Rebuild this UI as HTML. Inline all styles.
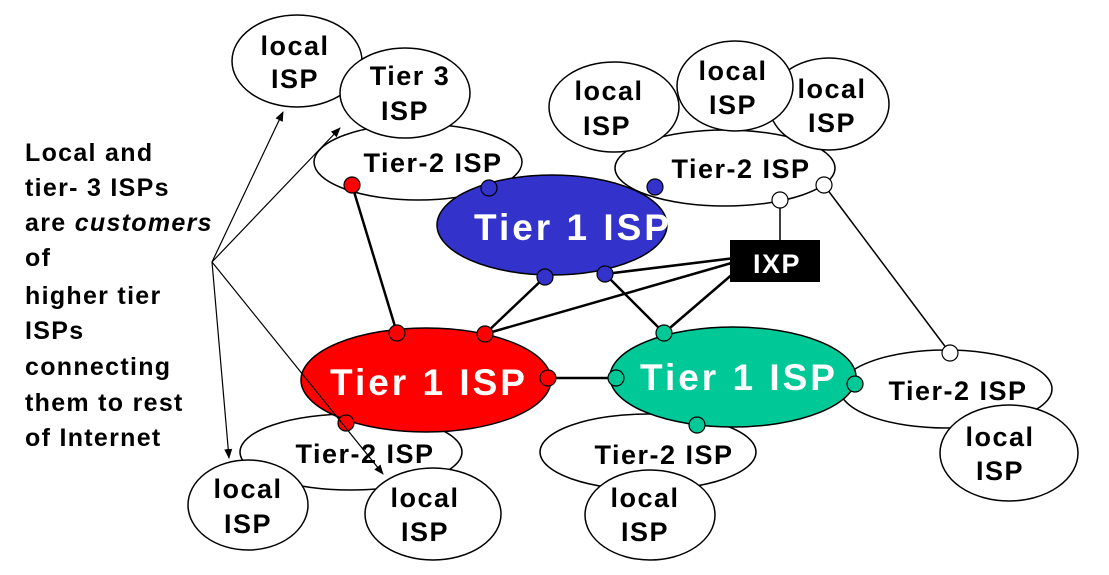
<!DOCTYPE html>
<html><head><meta charset="utf-8"><style>
html,body{margin:0;padding:0;background:#fff;}
svg text{font-family:"Liberation Sans",sans-serif;font-weight:bold;}
</style></head><body>
<svg width="1109" height="570" viewBox="0 0 1109 570" xmlns="http://www.w3.org/2000/svg">
<defs><marker id="a" markerWidth="10" markerHeight="10" refX="9" refY="5" orient="auto" markerUnits="userSpaceOnUse"><path d="M0,1 L10,5 L0,9z" fill="#000"/></marker></defs>
<g stroke="#000" stroke-width="1.5" fill="#fff">
<ellipse cx="418" cy="162" rx="104" ry="38"/>
<ellipse cx="297" cy="61" rx="65" ry="46"/>
<ellipse cx="405" cy="93" rx="65" ry="45"/>
<ellipse cx="725" cy="168" rx="110" ry="38"/>
<ellipse cx="829" cy="104" rx="60" ry="46"/>
<ellipse cx="735" cy="86" rx="58" ry="45"/>
<ellipse cx="614" cy="107" rx="65" ry="45"/>
<ellipse cx="552" cy="225" rx="115" ry="50" fill="#3333cc"/>
<ellipse cx="351" cy="452" rx="111" ry="38"/>
<ellipse cx="648" cy="452" rx="108" ry="38"/>
<ellipse cx="946" cy="389" rx="106" ry="39"/>
<ellipse cx="1009" cy="453" rx="69" ry="48"/>
<ellipse cx="426" cy="380" rx="125" ry="52" fill="#ff0000"/>
<ellipse cx="733" cy="377" rx="123" ry="50" fill="#00c896"/>
<ellipse cx="248" cy="505" rx="60" ry="45"/>
<ellipse cx="433" cy="514" rx="68" ry="46"/>
<ellipse cx="650" cy="515" rx="65" ry="45"/>
</g>
<g stroke="#000" stroke-width="2.5">
<line x1="352" y1="185" x2="397" y2="333"/>
<line x1="545" y1="277" x2="485" y2="334"/>
<line x1="605" y1="274" x2="664" y2="333"/>
<line x1="735" y1="258" x2="605" y2="274"/>
<line x1="735" y1="262" x2="485" y2="334"/>
<line x1="735" y1="272" x2="664" y2="333"/>
<line x1="548" y1="378" x2="616" y2="378"/>
</g>
<g stroke="#000" stroke-width="1.5">
<line x1="780" y1="200" x2="780" y2="240"/>
<line x1="824" y1="185" x2="950" y2="353"/>
</g>
<rect x="730" y="240" width="90" height="42" fill="#000"/>
<text x="777" y="273" font-size="27" letter-spacing="1.5" fill="#fff" text-anchor="middle">IXP</text>
<g stroke="#000" stroke-width="1.2">
<circle cx="352" cy="185" r="8" fill="#ff0000"/>
<circle cx="489" cy="188" r="8" fill="#3333cc"/>
<circle cx="655" cy="187" r="8" fill="#3333cc"/>
<circle cx="780" cy="200" r="8" fill="#fff"/>
<circle cx="824" cy="185" r="8" fill="#fff"/>
<circle cx="545" cy="277" r="8" fill="#3333cc"/>
<circle cx="605" cy="274" r="8" fill="#3333cc"/>
<circle cx="397" cy="333" r="8" fill="#ff0000"/>
<circle cx="485" cy="334" r="8" fill="#ff0000"/>
<circle cx="548" cy="378" r="8" fill="#ff0000"/>
<circle cx="346" cy="423" r="8" fill="#ff0000"/>
<circle cx="664" cy="333" r="8" fill="#00c896"/>
<circle cx="616" cy="378" r="8" fill="#00c896"/>
<circle cx="697" cy="425" r="8" fill="#00c896"/>
<circle cx="855" cy="384" r="8" fill="#00c896"/>
<circle cx="950" cy="353" r="8" fill="#fff"/>
</g>
<g stroke="#000" stroke-width="1.2" marker-end="url(#a)">
<line x1="212" y1="262" x2="283" y2="112"/>
<line x1="212" y1="262" x2="340" y2="128"/>
<line x1="212" y1="262" x2="229" y2="458"/>
<line x1="212" y1="262" x2="383" y2="474"/>
</g>
<g font-size="27" letter-spacing="1.5" fill="#000" text-anchor="middle">
<text x="295" y="55">local</text><text x="295" y="88">ISP</text>
<text x="410" y="85">Tier 3</text><text x="405" y="120">ISP</text>
<text x="609" y="100">local</text><text x="607" y="135">ISP</text>
<text x="733" y="80">local</text><text x="733" y="114">ISP</text>
<text x="832" y="98">local</text><text x="832" y="132">ISP</text>
<text x="1000" y="446">local</text><text x="1000" y="480">ISP</text>
<text x="248" y="498">local</text><text x="248" y="533">ISP</text>
<text x="425" y="507">local</text><text x="425" y="541">ISP</text>
<text x="645" y="507">local</text><text x="645" y="541">ISP</text>
<text x="433" y="172">Tier-2 ISP</text>
<text x="741" y="178">Tier-2 ISP</text>
<text x="365" y="463">Tier-2 ISP</text>
<text x="664" y="464">Tier-2 ISP</text>
<text x="958" y="400">Tier-2 ISP</text>
</g>
<g font-size="37" letter-spacing="3" fill="#fff" text-anchor="middle">
<text x="573" y="240">Tier 1 ISP</text>
<text x="429" y="395">Tier 1 ISP</text>
<text x="739" y="390">Tier 1 ISP</text>
</g>
<g font-size="25" letter-spacing="1.3" fill="#000">
<text x="25" y="161">Local and</text>
<text x="25" y="196">tier- 3 ISPs</text>
<text x="25" y="231">are <tspan font-style="italic">customers</tspan></text>
<text x="25" y="266">of</text>
<text x="25" y="304">higher tier</text>
<text x="25" y="339">ISPs</text>
<text x="25" y="375">connecting</text>
<text x="25" y="411">them to rest</text>
<text x="25" y="446">of Internet</text>
</g>
</svg>
</body></html>
